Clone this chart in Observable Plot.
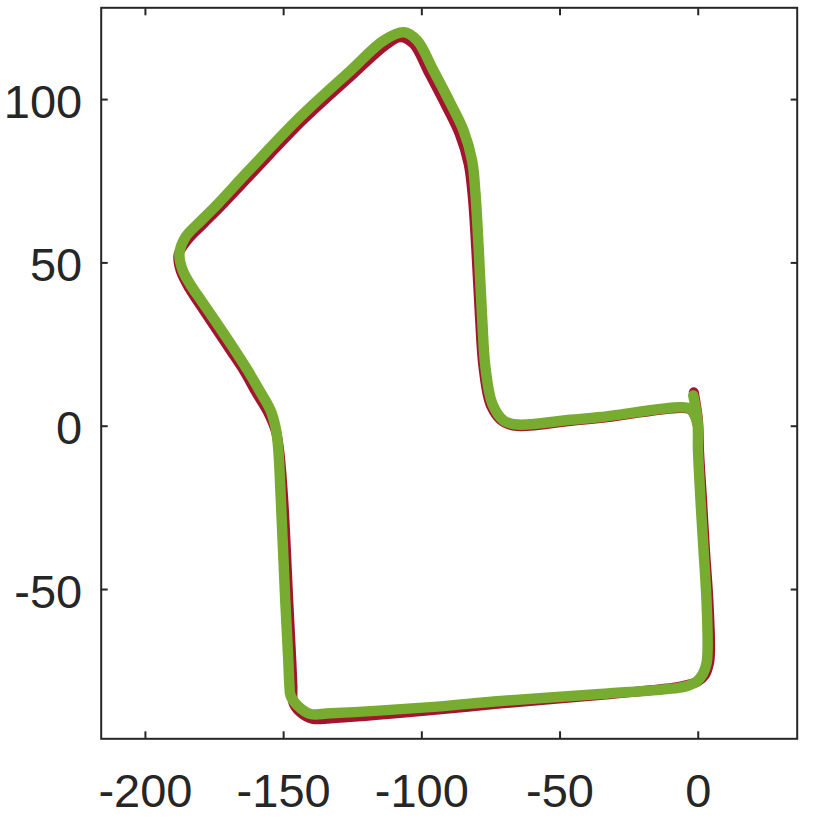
<!DOCTYPE html>
<html><head><meta charset="utf-8">
<script src="https://cdn.jsdelivr.net/npm/d3@7"></script>
<script src="https://cdn.jsdelivr.net/npm/@observablehq/plot@0.6"></script>
<style>body{margin:0;background:#fff}</style>
</head><body><div id="chart"></div>
<script>
const greenX = [-1.8, -0.25, -0.07, 0.83, 1.92, 3.0, 3.37, 3.0, 1.56, -0.62, -3.5, -7.1, -35.4, -71.5, -96.9, -133.1, -140.3, -145.0, -147.5, -147.9, -148.3, -149.4, -151.0, -151.9, -152.7, -154.7, -158.7, -163.0, -168.2, -179.8, -183.1, -186.5, -187.7, -185.5, -179.9, -173.8, -162.6, -143.9, -125.8, -113.8, -106.5, -101.7, -95.8, -89.6, -84.9, -81.8, -80.6, -79.4, -78.2, -77.0, -74.5, -70.3, -65.5, -46.2, -35.4, -6.4, -2.8, -1.0, -0.25];
const greenY = [9.4, 1.7, -7.4, -22.7, -38.0, -53.4, -68.7, -72.6, -76.0, -78.2, -79.4, -80.1, -82.0, -84.1, -86.0, -87.9, -88.1, -85.5, -82.4, -79.4, -71.7, -53.4, -22.7, -7.4, -1.3, 4.8, 10.9, 17.1, 24.0, 38.5, 42.5, 47.7, 52.8, 57.9, 62.9, 68.1, 78.3, 94.8, 108.9, 118.1, 120.6, 118.1, 108.9, 98.8, 90.5, 81.3, 71.2, 53.8, 33.4, 18.1, 6.9, 1.7, 0.5, 1.96, 2.8, 5.8, 5.3, 2.8, 0.2];
const redX = [-1.6, -0.07, 0.3, 1.4, 2.46, 3.7, 4.3, 3.9, 2.3, -0.25, -3.5, -7.1, -35.4, -71.5, -96.9, -133.1, -139.6, -144.0, -146.5, -146.8, -147.2, -148.3, -150.1, -151.6, -152.8, -155.6, -159.9, -164.0, -169.2, -180.8, -184.1, -187.3, -188.0, -184.6, -178.9, -172.9, -161.6, -142.8, -124.7, -113.2, -107.8, -103.1, -97.3, -91.1, -86.4, -83.1, -81.6, -80.3, -79.0, -77.7, -75.0, -70.5, -65.5, -46.2, -35.4, -6.4, -2.8, -1.0, -0.07];
const redY = [10.4, 1.7, -7.4, -22.7, -38.0, -53.4, -68.7, -72.6, -76.3, -78.2, -79.1, -79.8, -82.3, -84.9, -87.0, -89.5, -89.6, -87.6, -84.6, -79.4, -71.7, -53.4, -22.7, -7.4, -1.6, 4.2, 10.3, 16.5, 23.2, 37.9, 42.2, 47.7, 52.6, 57.2, 62.1, 67.2, 77.3, 93.9, 107.9, 116.6, 119.1, 117.1, 108.0, 97.9, 89.6, 80.4, 70.3, 53.8, 33.4, 18.0, 6.3, 1.3, 0.06, 1.6, 2.5, 5.6, 5.1, 2.7, 0.2];
const xTicks = [-200, -150, -100, -50, 0];
const yTicks = [-50, 0, 50, 100];
const xDomain = [-216.0, 35.8];
const yDomain = [-95.7, 128.1];

const red = redX.map((x, i) => ({x, y: redY[i]}));
const green = greenX.map((x, i) => ({x, y: greenY[i]}));
const ink = "#262626";

const chart = Plot.plot({
  width: 822,
  height: 822,
  marginLeft: 100.7,
  marginTop: 7.3,
  marginRight: 25.3,
  marginBottom: 83.7,
  style: {fontFamily: "'Liberation Sans', Arial, Helvetica, sans-serif", fontSize: "47px", color: ink, background: "#fff"},
  x: {domain: xDomain, label: null},
  y: {domain: yDomain, label: null},
  marks: [
    Plot.line(red, {x: "x", y: "y", stroke: "#A2142F", strokeWidth: 10, strokeLinecap: "round", strokeLinejoin: "round", curve: "catmull-rom"}),
    Plot.line(green, {x: "x", y: "y", stroke: "#77AC30", strokeWidth: 10.5, strokeLinecap: "round", strokeLinejoin: "round", curve: "catmull-rom"}),
    Plot.axisX(xTicks, {anchor: "bottom", label: null, tickSize: 0, tickPadding: 35, tickFormat: d => String(d), fill: ink}),
    Plot.axisY(yTicks, {anchor: "left", label: null, tickSize: 0, tickPadding: 19, dy: 3, tickFormat: d => String(d), fill: ink}),
    Plot.axisX(xTicks, {anchor: "bottom", label: null, tickSize: -7, strokeWidth: 2, stroke: ink, tickFormat: () => ""}),
    Plot.axisX(xTicks, {anchor: "top", label: null, tickSize: -7, strokeWidth: 2, stroke: ink, tickFormat: () => ""}),
    Plot.axisY(yTicks, {anchor: "left", label: null, tickSize: -7, strokeWidth: 2, stroke: ink, tickFormat: () => ""}),
    Plot.axisY(yTicks, {anchor: "right", label: null, tickSize: -7, strokeWidth: 2, stroke: ink, tickFormat: () => ""}),
    Plot.frame({stroke: ink, strokeWidth: 2})
  ]
});
document.getElementById("chart").appendChild(chart);
</script>
</body></html>
